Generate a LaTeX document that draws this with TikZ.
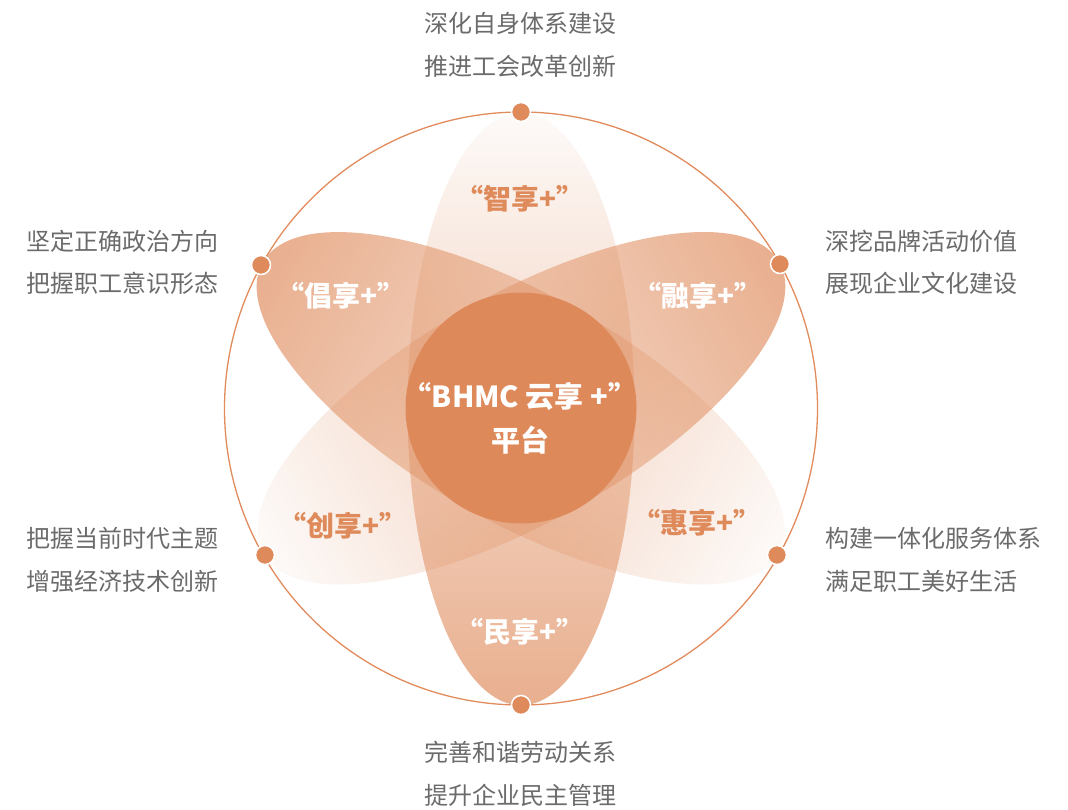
\documentclass[tikz,border=0pt]{standalone}
\usepackage{fontspec}
\setmainfont{Noto Sans CJK SC}
\usetikzlibrary{fadings}
\definecolor{accent}{HTML}{DF8A5A}
\definecolor{ringc}{HTML}{E28B5D}
\definecolor{coreC}{HTML}{DE895A}
\definecolor{greytext}{HTML}{6B6B6B}
\tikzfading[name=petalfade, top color=transparent!95, bottom color=transparent!0]
\begin{document}
\begin{tikzpicture}[x=1pt,y=-1pt,
  petal/.style={fill=accent, fill opacity=0.68, path fading=petalfade},
  gtext/.style={font=\fontsize{24}{28}\selectfont, text=greytext, inner sep=0pt},
  plabel/.style={font=\fontsize{28}{32}\selectfont\bfseries, inner sep=0pt},
  coretext/.style={font=\fontsize{29}{34}\selectfont\bfseries, text=white, inner sep=0pt},
  dotnode/.style={circle, fill=accent, draw=white, line width=1.5pt, minimum size=19pt, inner sep=0pt}]
\useasboundingbox[fill=white] (0,0) rectangle (1068,809);
\coordinate (c) at (521,408.5);
% outer ring
\draw[ringc, line width=1.3pt] (c) circle [radius=296.5pt];
% petals
\fill[petal] (c) ellipse [x radius=113.5pt, y radius=296.5pt];
\begin{scope}[transform canvas={rotate around={-119.5:(c)}}]
  \fill[petal] (c) ellipse [x radius=113.5pt, y radius=296.5pt];
\end{scope}
\begin{scope}[transform canvas={rotate around={119.5:(c)}}]
  \fill[petal] (c) ellipse [x radius=113.5pt, y radius=296.5pt];
\end{scope}
% core
\node[circle, fill=coreC, minimum size=231pt, inner sep=0pt] (core) at (521,408) {};
\node[coretext] (coreA) at (520,396) {“BHMC 云享 +”};
\node[coretext] (coreB) at (520,440) {平台};
% petal labels
\node[plabel, text=accent] (zhi) at (520,199) {“智享+”};
\node[plabel, text=white] (chang) at (341,296) {“倡享+”};
\node[plabel, text=white] (rong) at (698,296) {“融享+”};
\node[plabel, text=accent] (chuang) at (343,526) {“创享+”};
\node[plabel, text=accent] (hui) at (697,523) {“惠享+”};
\node[plabel, text=white] (min) at (520,632) {“民享+”};
% dots
\node[dotnode] (dT) at (521,112) {};
\node[dotnode] (dB) at (521,705) {};
\node[dotnode] (dTL) at (261,265) {};
\node[dotnode] (dTR) at (780,264) {};
\node[dotnode] (dBL) at (265,555) {};
\node[dotnode] (dBR) at (777,555) {};
% outer texts
\node[gtext] (t1) at (520,23) {深化自身体系建设};
\node[gtext] (t2) at (520,66) {推进工会改革创新};
\node[gtext, anchor=west] (l1) at (26,241) {坚定正确政治方向};
\node[gtext, anchor=west] (l2) at (26,283) {把握职工意识形态};
\node[gtext, anchor=west] (r1) at (825,241) {深挖品牌活动价值};
\node[gtext, anchor=west] (r2) at (825,283) {展现企业文化建设};
\node[gtext, anchor=west] (l3) at (26,538) {把握当前时代主题};
\node[gtext, anchor=west] (l4) at (26,581) {增强经济技术创新};
\node[gtext, anchor=west] (r3) at (825,538) {构建一体化服务体系};
\node[gtext, anchor=west] (r4) at (825,581) {满足职工美好生活};
\node[gtext] (b1) at (520,752) {完善和谐劳动关系};
\node[gtext] (b2) at (520,795) {提升企业民主管理};
\end{tikzpicture}
\end{document}
